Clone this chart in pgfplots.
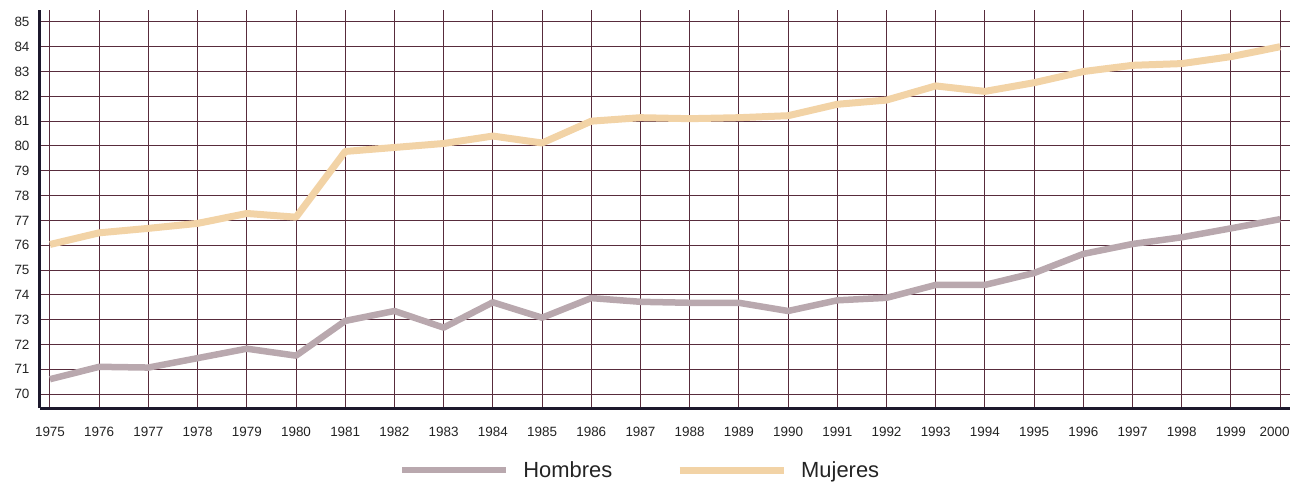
\documentclass[border=0pt]{standalone}
\usepackage{pgfplots}
\pgfplotsset{compat=1.18}
\usepackage{fontspec}
\setmainfont{Liberation Sans}
\definecolor{gridc}{RGB}{88,44,60}
\definecolor{axisc}{RGB}{28,24,44}
\definecolor{hombc}{RGB}{185,168,174}
\definecolor{mujc}{RGB}{242,211,166}
\definecolor{txtc}{RGB}{35,35,35}
\begin{document}
\begin{tikzpicture}
\begin{axis}[
  scale only axis, width=1250bp, height=398bp,
  xmin=1974.797, xmax=2000.2, ymin=69.44, ymax=85.48,
  axis lines=left,
  axis line style={-, line width=3bp, color=axisc},
  xtick={1975,1976,...,2000}, ytick={70,71,...,85},
  xticklabels={1975,1976,1977,1978,1979,1980,1981,1982,1983,1984,1985,1986,1987,1988,1989,1990,1991,1992,1993,1994,1995,1996,1997,1998,1999,{\kern-11bp 2000}},
  grid=major, grid style={gridc, line width=1bp},
  major tick length=0pt,
  /pgf/number format/assume math mode=true,
  /pgf/number format/set thousands separator={},
  tick label style={font=\fontsize{13.5}{16}\selectfont, text=txtc},
  yticklabel style={xshift=-7bp},
  xticklabel style={yshift=-16bp},
  legend columns=2,
  legend style={draw=none, fill=none, at={(rel axis cs:0.48,0)}, yshift=-62bp, anchor=center,
    font=\fontsize{22}{25}\selectfont, text=txtc,
    /tikz/every even column/.append style={column sep=62bp},
    /tikz/every odd column/.append style={column sep=12bp}},
  legend image code/.code={\draw[#1] (0bp,0bp) -- (104bp,0bp);},
]
\addplot[hombc, line width=6.5bp, line join=round] coordinates {
(1975,70.6) (1976,71.1) (1977,71.07) (1978,71.45) (1979,71.83) (1980,71.55)
(1981,72.95) (1982,73.35) (1983,72.68) (1984,73.7) (1985,73.08) (1986,73.87)
(1987,73.72) (1988,73.68) (1989,73.68) (1990,73.35) (1991,73.78) (1992,73.88)
(1993,74.4) (1994,74.4) (1995,74.88) (1996,75.65) (1997,76.05) (1998,76.32)
(1999,76.68) (2000,77.05)};
\addlegendentry{Hombres}
\addplot[mujc, line width=7bp, line join=round] coordinates {
(1975,76.03) (1976,76.5) (1977,76.68) (1978,76.88) (1979,77.28) (1980,77.13)
(1981,79.78) (1982,79.94) (1983,80.1) (1984,80.4) (1985,80.12) (1986,81.0)
(1987,81.14) (1988,81.1) (1989,81.14) (1990,81.22) (1991,81.68) (1992,81.85)
(1993,82.42) (1994,82.2) (1995,82.55) (1996,83.0) (1997,83.25) (1998,83.32)
(1999,83.6) (2000,84.0)};
\addlegendentry{Mujeres}
\coordinate (o) at (rel axis cs:0,0);
\end{axis}
\pgfresetboundingbox
\path (o) ++(-40bp,-74bp) rectangle ++(1292bp,482bp);
\end{tikzpicture}
\end{document}
